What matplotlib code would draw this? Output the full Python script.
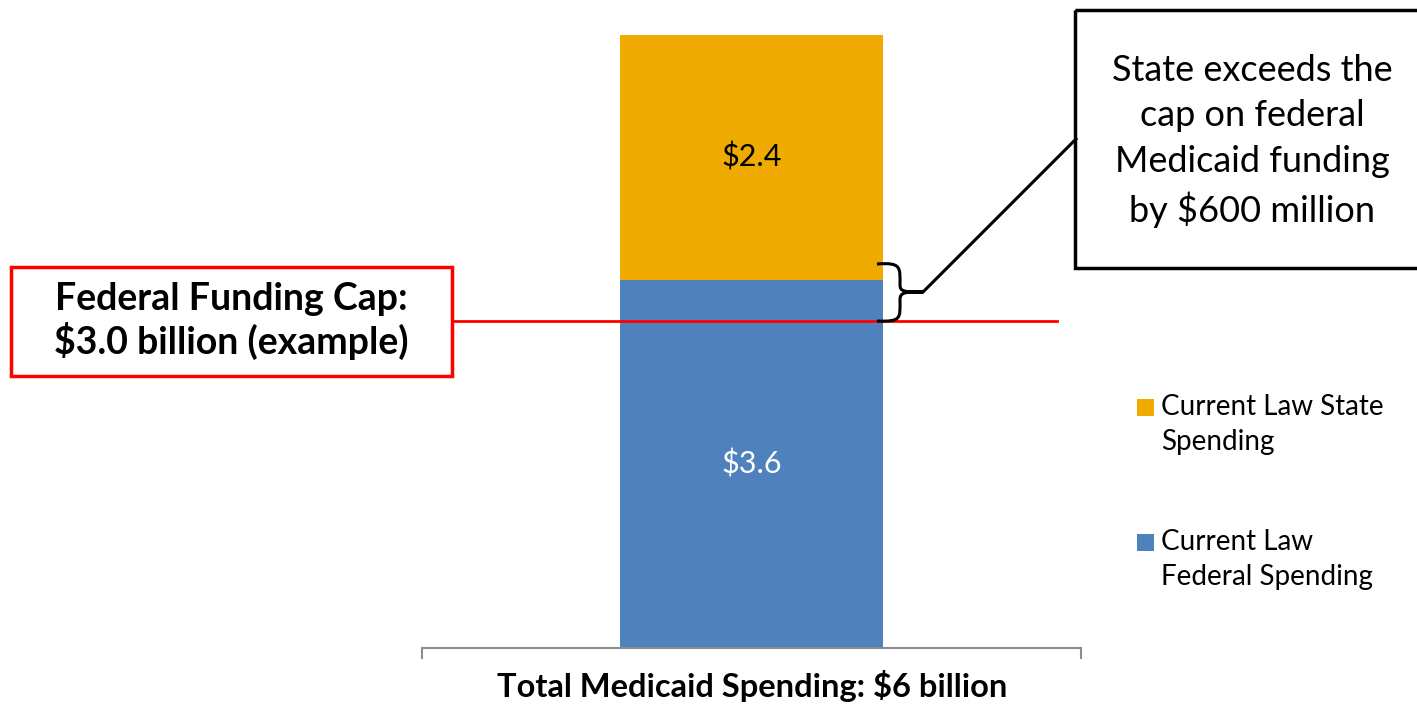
import matplotlib
matplotlib.use("Agg")
import matplotlib.pyplot as plt
from matplotlib.patches import Rectangle, PathPatch
from matplotlib.path import Path

plt.rcParams['font.family'] = ['Lato', 'DejaVu Sans']

# data (billions of dollars)
category = ["Total Medicaid Spending: $6 billion"]
federal = [3.6]
state = [2.4]
cap_line = 3.2      # where the cap line is drawn in the picture
cap_label = "Federal Funding Cap:\n$3.0 billion (example)"
series_names = ["Current Law State\nSpending", "Current Law\nFederal Spending"]
col_federal = "#4F81BD"
col_state = "#F0AB00"

W, H = 1417, 705
fig = plt.figure(figsize=(W / 100, H / 100), dpi=100)

# main axes: 422..1081 px wide, bottom at y=648
ax = fig.add_axes([422 / W, (H - 648) / H, 659 / W, 644 / H])
ax.bar([0], federal, width=0.4, color=col_federal, zorder=2)
ax.bar([0], state, width=0.4, bottom=federal, color=col_state, zorder=2)
ax.set_xlim(-0.5, 0.5)
ax.set_ylim(0, 6.3)
ax.text(0, federal[0] / 2, f"${federal[0]:.1f}", ha="center", va="center",
        color="white", fontsize=22)
ax.text(0, federal[0] + state[0] / 2, f"${state[0]:.1f}", ha="center", va="center",
        color="black", fontsize=22)

# red cap line
ax.plot([-0.4545, 0.4636], [cap_line, cap_line], color="#FF0000", lw=2, zorder=3,
        clip_on=False)

for s in ["top", "left", "right"]:
    ax.spines[s].set_visible(False)
ax.spines["bottom"].set_color("#8C8C8C")
ax.spines["bottom"].set_linewidth(1.5)
ax.set_yticks([])
ax.set_xticks([-0.5, 0.5])
ax.set_xticklabels([])
ax.tick_params(axis="x", direction="out", length=8, width=1.5, color="#8C8C8C")

# overlay in pixel coordinates for the annotation shapes
ov = fig.add_axes([0, 0, 1, 1], zorder=5)
ov.set_xlim(0, W)
ov.set_ylim(H, 0)
ov.axis("off")
ov.patch.set_alpha(0)

# red cap box
ov.add_patch(Rectangle((11, 267), 441, 109, fill=False, edgecolor="#FF0000", lw=2.5))
ov.text(231, 321, cap_label, ha="center", va="center", fontsize=27,
        fontweight="bold", linespacing=1.18)

# callout box
ov.add_patch(Rectangle((1075, 10), 360, 258, fill=False, edgecolor="black", lw=2.5,
                       clip_on=False))
ov.text(1252, 141, "State exceeds the\ncap on federal\nMedicaid funding\nby $600 million",
        ha="center", va="center", fontsize=26, linespacing=1.45)

# curly brace + pointer line
verts = [(877, 264), (902, 262), (900, 268), (900, 285),
         (900, 292), (905, 292), (923, 292),
         (905, 292), (900, 292), (900, 300),
         (900, 318), (902, 322), (877, 321)]
codes = [Path.MOVETO, Path.CURVE4, Path.CURVE4, Path.CURVE4,
         Path.CURVE4, Path.CURVE4, Path.CURVE4,
         Path.CURVE4, Path.CURVE4, Path.CURVE4,
         Path.CURVE4, Path.CURVE4, Path.CURVE4]
ov.add_patch(PathPatch(Path(verts, codes), fill=False, edgecolor="black", lw=2.2))
ov.plot([923, 1076], [292, 139], color="black", lw=2.2)

# legend drawn by hand, square aligned with first line
for (y, name, c) in [(407, series_names[0], col_state), (542, series_names[1], col_federal)]:
    ov.add_patch(Rectangle((1137, y - 8), 17, 17, facecolor=c, edgecolor="none"))
    ov.text(1161, y - 13, name, ha="left", va="top", fontsize=20, linespacing=1.45)

# category label under the axis
ov.text(752, 686, category[0], ha="center", va="center", fontsize=23.5,
        fontweight="bold")

fig.savefig("out.png", dpi=100)
